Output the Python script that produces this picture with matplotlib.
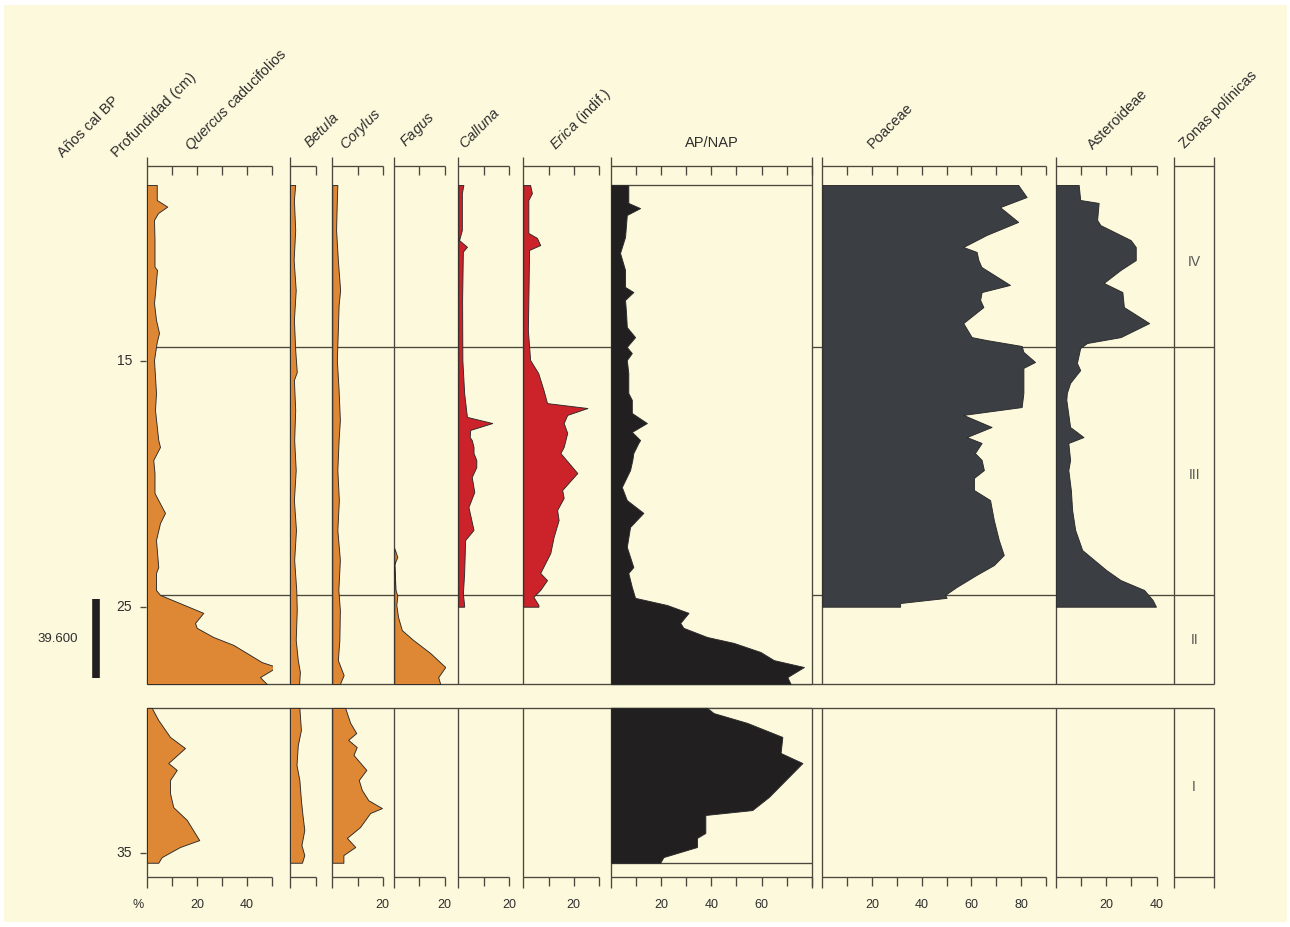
import matplotlib
matplotlib.use('Agg')
import matplotlib.pyplot as plt
from matplotlib import font_manager
from matplotlib.patches import Rectangle
import numpy as np

W, H = 1290, 927

# fuentes (estrecha si existe)
nombres = {f.name for f in font_manager.fontManager.ttflist}
FAM = 'Liberation Sans Narrow' if 'Liberation Sans Narrow' in nombres else 'Liberation Sans'
plt.rcParams['font.family'] = [FAM, 'DejaVu Sans']
plt.rcParams['mathtext.fontset'] = 'custom'
plt.rcParams['mathtext.it'] = FAM + ':italic'
plt.rcParams['mathtext.rm'] = FAM

CREMA = '#fdf9dc'
LINEA = '#4a473f'
BORDE = '#2a2a2a'
NARANJA = '#de8734'
ROJO = '#cc2229'
NEGRO = '#211f1f'
GRIS = '#3b3e42'
TEXTO = '#2e2e2e'
LW = 0.95

# ---------------- datos (profundidad en cm, valores en %)
prof_ticks = [15, 25, 35]
zonas = ['IV', 'III', 'II', 'I']
zonas_prof = [10.98, 19.63, 26.33, 32.30]      # posicion de la etiqueta
limites_zona = [14.42, 24.50]
hiato = [28.12, 29.09]
prof_top, prof_bot = 7.85, 35.38
fecha = '39.600'
fecha_prof = [24.67, 27.88]

quercus_d = [7.85, 8.46, 8.73, 8.99, 9.27, 10.09, 11.17, 11.30, 12.24, 12.64, 13.33, 13.86, 14.23, 14.96,
             16.30, 16.99, 18.21, 18.49, 19.02, 19.55, 20.36, 21.17, 21.58, 22.27, 23.37, 23.61, 24.30,
             24.50, 25.23, 25.64, 25.84, 26.21, 26.53, 26.86, 27.23, 27.43, 27.84, 28.12]
quercus_v = [3.9, 3.9, 8.1, 4.4, 2.8, 3.0, 3.0, 4.0, 3.2, 2.8, 3.6, 4.8, 3.9, 2.8,
             3.6, 3.2, 4.5, 5.2, 2.5, 3.0, 3.0, 7.2, 5.2, 3.6, 4.5, 3.6, 3.6,
             5.2, 22.5, 19.2, 19.9, 26.5, 34.5, 39.9, 45.9, 51.9, 45.2, 47.9]
quercus2_d = [29.09, 29.58, 30.27, 30.72, 31.33, 31.61, 32.02, 32.55, 33.12, 33.64, 34.46, 34.74, 35.15, 35.38]
quercus2_v = [1.9, 4.5, 9.2, 15.2, 8.5, 11.9, 9.2, 9.2, 10.5, 15.9, 20.9, 13.2, 5.9, 4.5]

betula_d = [7.85, 8.46, 9.68, 10.90, 12.12, 13.33, 14.55, 15.45, 15.77, 16.99, 18.21, 19.43, 20.65,
            21.86, 23.08, 24.30, 25.11, 26.33, 27.15, 27.63, 28.12]
betula_v = [2.0, 1.5, 2.0, 1.4, 2.2, 1.5, 2.0, 2.6, 1.5, 2.0, 1.6, 2.2, 1.5,
            2.3, 1.6, 2.4, 2.6, 2.2, 3.0, 3.8, 3.5]
betula2_d = [29.09, 29.99, 30.60, 31.41, 32.02, 32.84, 33.44, 34.05, 34.66, 35.07, 35.38]
betula2_v = [3.6, 4.2, 3.0, 2.5, 3.6, 4.2, 4.8, 5.5, 4.4, 5.5, 4.6]

corylus_d = [7.85, 8.46, 9.68, 10.90, 12.12, 12.73, 13.74, 14.96, 16.18, 17.40, 18.21, 19.43, 20.65,
             21.86, 23.08, 24.30, 25.11, 26.33, 27.15, 27.76, 28.12]
corylus_v = [2.0, 1.8, 1.5, 2.2, 3.1, 2.5, 2.2, 1.8, 2.5, 3.0, 2.5, 2.0, 2.6,
             2.0, 3.0, 2.4, 3.0, 2.8, 2.2, 4.5, 3.0]
corylus2_d = [29.09, 29.70, 30.11, 30.39, 30.68, 31.00, 31.61, 32.02, 32.42, 32.84, 33.16, 33.36,
              33.93, 34.37, 34.74, 35.07, 35.38]
corylus2_v = [5.1, 7.1, 9.5, 6.3, 9.7, 8.4, 13.5, 10.5, 11.7, 14.3, 19.7, 15.0, 11.0, 5.8, 9.1, 4.4, 4.4]

fagus_d = [22.60, 22.96, 23.25, 24.30, 24.54, 24.91, 25.40, 25.93, 26.33, 26.86, 27.43, 27.84, 28.12]
fagus_v = [0, 1.2, 0, 0.5, 1.2, 0.8, 1.5, 3.0, 7.5, 14.3, 20.3, 17.5, 18.3]

calluna_d = [7.85, 8.18, 9.68, 10.09, 10.36, 10.56, 12.52, 14.96, 16.30, 17.27, 17.52, 17.80, 18.09,
             18.21, 18.49, 18.74, 19.02, 19.31, 19.71, 20.32, 20.93, 21.86, 22.27, 23.61, 24.46, 24.91, 24.98]
calluna_v = [2.0, 1.4, 1.4, 0.3, 3.4, 1.8, 1.5, 1.6, 2.3, 3.4, 13.4, 4.7, 4.5,
             5.3, 6.0, 6.0, 7.1, 7.1, 5.3, 6.3, 4.0, 6.0, 2.7, 2.3, 1.8, 2.3, 2.3]

erica_d = [7.85, 8.18, 8.46, 9.80, 10.00, 10.29, 10.49, 12.52, 13.74, 14.96, 15.49, 16.18, 16.71, 16.91,
           17.19, 17.52, 17.92, 18.49, 18.74, 19.55, 20.24, 20.56, 21.05, 21.46, 22.15, 22.80, 23.61,
           23.90, 24.30, 24.58, 24.91, 24.98]
erica_v = [2.7, 3.4, 2.0, 2.0, 5.4, 6.7, 2.3, 2.0, 1.8, 2.7, 5.9, 8.0, 9.4, 25.4,
           17.4, 16.0, 17.4, 16.0, 14.7, 21.4, 15.4, 16.0, 13.4, 14.0, 12.0, 10.7, 6.7,
           9.4, 6.7, 4.0, 6.0, 6.0]

ap_d = [7.85, 8.58, 8.79, 9.07, 9.96, 10.61, 11.30, 11.99, 12.20, 12.52, 13.05, 13.62, 14.03, 14.43,
        14.68, 14.96, 15.49, 16.30, 16.58, 17.11, 17.52, 17.88, 18.21, 18.33, 18.74, 19.02, 19.43, 20.12,
        20.65, 21.17, 21.74, 22.55, 23.37, 23.61, 24.18, 24.62, 24.91, 25.23, 25.64, 25.84, 26.21,
        26.45, 26.82, 27.15, 27.43, 27.84, 28.12]
ap_v = [6.9, 6.9, 11.6, 6.3, 5.6, 3.6, 5.6, 5.6, 8.9, 5.6, 6.0, 6.3, 9.6, 6.3,
        8.3, 6.3, 6.9, 6.9, 8.3, 8.3, 14.3, 8.3, 11.6, 10.9, 8.9, 8.5, 7.6, 4.3,
        6.3, 12.9, 7.6, 6.3, 8.9, 6.9, 8.3, 9.6, 22.3, 30.9, 27.6, 28.9, 38.3,
        48.9, 59.6, 64.9, 76.9, 70.3, 71.6]
ap2_d = [29.09, 29.30, 29.70, 30.27, 30.92, 31.33, 32.02, 32.71, 33.24, 33.44, 34.17, 34.37, 34.74,
         35.15, 35.38]
ap2_v = [38.3, 40.9, 54.3, 68.3, 67.6, 76.3, 69.6, 62.9, 56.3, 37.6, 37.6, 34.3, 34.3, 20.9, 19.6]
ap_max = 80

poaceae_d = [7.85, 8.34, 8.75, 9.35, 9.88, 10.37, 10.57, 10.90, 11.18, 11.91, 12.20, 12.52, 12.81,
             13.46, 14.03, 14.15, 14.39, 14.63, 15.04, 15.28, 16.30, 16.87, 17.19, 17.68, 18.09,
             18.33, 18.74, 19.02, 19.43, 19.75, 20.24, 20.65, 21.46, 22.27, 22.88, 23.29, 23.69,
             24.18, 24.50, 24.62, 24.83, 24.98]
poaceae_v = [78.8, 82.2, 71.5, 78.8, 66.1, 56.7, 62.1, 62.8, 64.0, 75.5, 64.1, 63.5, 64.8,
             56.7, 60.1, 66.1, 80.2, 80.9, 85.6, 80.9, 80.9, 80.2, 56.7, 68.1, 58.1,
             64.1, 61.4, 64.1, 65.0, 61.0, 61.0, 67.5, 69.0, 71.0, 73.0, 69.0, 62.0,
             54.0, 49.4, 50.0, 31.3, 31.3]

asteroideae_d = [7.85, 8.46, 8.58, 9.27, 9.48, 10.09, 10.37, 10.90, 11.30, 11.83, 12.20, 12.81, 13.46,
                 14.03, 14.27, 14.47, 15.08, 15.37, 15.89, 16.30, 16.58, 17.68, 18.09, 18.33, 19.02,
                 19.43, 20.24, 21.05, 21.86, 22.68, 23.49, 23.90, 24.30, 24.71, 24.98]
asteroideae_v = [9.1, 9.7, 17.0, 16.4, 17.7, 29.7, 31.7, 31.7, 25.7, 19.0, 26.4, 27.0, 37.0,
                 25.7, 12.4, 9.7, 8.4, 9.7, 5.7, 4.4, 4.2, 5.7, 11.0, 5.0, 5.7,
                 5.0, 6.0, 6.5, 7.7, 10.5, 20.0, 25.7, 35.0, 38.4, 39.7]


# ---------------- maquetacion (pixeles de la figura -> profundidad)
def d(y):
    return 15 + (y - 361) / 24.62

Y_TOP, Y_BOT = d(0), d(H)
V0, V1 = d(157), d(888)      # verticales
AX0, AX1 = d(166), d(877)    # ejes de escala
TK = 9 / 24.62

fig = plt.figure(figsize=(W / 100, H / 100), dpi=100, facecolor='white')
fig.patches.append(Rectangle((4 / W, 5 / H), 1283 / W, 917 / H, transform=fig.transFigure,
                             facecolor=CREMA, edgecolor='none', zorder=-10))


def nuevo_ax(x0, x1, xmax):
    ax = fig.add_axes([x0 / W, 0, (x1 - x0) / W, 1])
    ax.set_xlim(0, xmax)
    ax.set_ylim(Y_BOT, Y_TOP)
    ax.axis('off')
    ax.patch.set_alpha(0)
    return ax


def linea(ax, xs, ys, **kw):
    ax.plot(xs, ys, color=LINEA, lw=LW, clip_on=False, solid_capstyle='butt', **kw)


# fondo: limites de zona e hiato
bg = nuevo_ax(147, 1214.3, 1)
for z in limites_zona:
    linea(bg, [0, 1], [z, z])
for z in hiato:
    linea(bg, [0, 1], [z, z])

# columna izquierda: profundidad y fecha
izq = nuevo_ax(0, 147, 147)
for p in prof_ticks:
    linea(izq, [140, 146], [p, p])
    izq.text(132, p, str(p), ha='right', va='center', fontsize=10, color=TEXTO)
izq.plot([96, 96], fecha_prof, color=NEGRO, lw=5.5, solid_capstyle='butt')
izq.text(58, np.mean(fecha_prof), fecha, ha='center', va='center', fontsize=9.5, color=TEXTO)


def marco(ax, xmax, paso=10, derecha=False, ticks=True):
    for a, b in [(V0, hiato[0]), (hiato[1], V1)]:
        linea(ax, [0, 0], [a, b])
        if derecha:
            linea(ax, [xmax, xmax], [a, b])
    linea(ax, [0, xmax], [AX0, AX0])
    linea(ax, [0, xmax], [AX1, AX1])
    if ticks:
        for t in np.arange(paso, xmax + 0.01, paso):
            linea(ax, [t, t], [AX0, AX0 + TK])
            linea(ax, [t, t], [AX1, AX1 + TK])


def etiquetas(ax, vals):
    for v in vals:
        ax.text(v, d(905), str(v), ha='center', va='center', fontsize=9, color=TEXTO)


def curva(ax, dd, vv, color):
    ax.fill_betweenx(dd, 0, vv, facecolor=color, edgecolor=BORDE, lw=0.65, zorder=3)


paneles = [
    # x0, x1, max
    ('quercus', 147, 272, 50),
    ('betula', 290, 316, 10),
    ('corylus', 332.3, 382.7, 20),
    ('fagus', 394.3, 444.5, 20),
    ('calluna', 458.3, 509, 20),
    ('erica', 523.3, 599, 30),
    ('ap', 611, 811.7, 80),
    ('poaceae', 822.3, 1046, 90),
    ('asteroideae', 1055.7, 1156.7, 40),
]
axs = {}
for nombre, x0, x1, xm in paneles:
    ax = nuevo_ax(x0, x1, xm)
    marco(ax, xm, derecha=(nombre == 'ap'))
    axs[nombre] = ax

curva(axs['quercus'], quercus_d, quercus_v, NARANJA)
curva(axs['quercus'], quercus2_d, quercus2_v, NARANJA)
curva(axs['betula'], betula_d, betula_v, NARANJA)
curva(axs['betula'], betula2_d, betula2_v, NARANJA)
curva(axs['corylus'], corylus_d, corylus_v, NARANJA)
curva(axs['corylus'], corylus2_d, corylus2_v, NARANJA)
curva(axs['fagus'], fagus_d, fagus_v, NARANJA)
curva(axs['calluna'], calluna_d, calluna_v, ROJO)
curva(axs['erica'], erica_d, erica_v, ROJO)

ax = axs['ap']
for a, b in [(prof_top, hiato[0]), (hiato[1], prof_bot)]:
    ax.add_patch(Rectangle((0, a), ap_max, b - a, facecolor=CREMA, edgecolor=LINEA, lw=LW, zorder=2))
curva(ax, ap_d, ap_v, NEGRO)
curva(ax, ap2_d, ap2_v, NEGRO)
curva(axs['poaceae'], poaceae_d, poaceae_v, GRIS)
curva(axs['asteroideae'], asteroideae_d, asteroideae_v, GRIS)

axs['quercus'].text(-3.6, d(905), '%', ha='center', va='center', fontsize=9, color=TEXTO)
etiquetas(axs['quercus'], [20, 40])
etiquetas(axs['corylus'], [20])
etiquetas(axs['fagus'], [20])
etiquetas(axs['calluna'], [20])
etiquetas(axs['erica'], [20])
etiquetas(axs['ap'], [20, 40, 60])
etiquetas(axs['poaceae'], [20, 40, 60, 80])
etiquetas(axs['asteroideae'], [20, 40])

# columna de zonas
zax = nuevo_ax(1174, 1214.3, 1)
marco(zax, 1, derecha=True, ticks=False)
for z, p in zip(zonas, zonas_prof):
    zax.text(0.5, p, z, ha='center', va='center', fontsize=10, color='#555555')

# cabeceras
cabeceras = [
    ('Años cal BP', 63, 158),
    ('Profundidad (cm)', 117, 158),
    (r'$\mathit{Quercus}$ caducifolios', 190, 151),
    (r'$\mathit{Betula}$', 310, 149),
    (r'$\mathit{Corylus}$', 345, 150),
    (r'$\mathit{Fagus}$', 405, 147),
    (r'$\mathit{Calluna}$', 465, 150),
    (r'$\mathit{Erica}$ (indif.)', 555, 150),
    ('Poaceae', 873, 149),
    ('Asteroideae', 1093, 150),
    ('Zonas polínicas', 1185, 149),
]
for txt, x, y in cabeceras:
    fig.text(x / W, 1 - y / H, txt, rotation=45, rotation_mode='anchor', ha='left', va='baseline',
             fontsize=10.5, color=TEXTO)
fig.text(712 / W, 1 - 143 / H, 'AP/NAP', ha='center', va='center', fontsize=10.5, color=TEXTO)

fig.savefig('out.png', dpi=100, facecolor=fig.get_facecolor())
